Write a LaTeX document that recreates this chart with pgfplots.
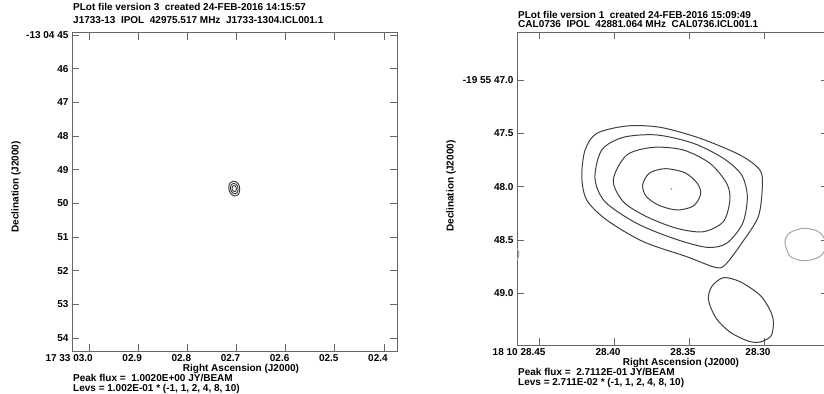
\documentclass[border=0pt]{standalone}
\usepackage{fontspec}
\setmainfont{Liberation Sans}
\usepackage{pgfplots}
\pgfplotsset{compat=1.18}
\newcommand{\pf}{\fontsize{10bp}{12bp}\selectfont\bfseries}
\pgfplotsset{
  skyaxis/.style={
    scale only axis, x dir=reverse, y dir=reverse,
    axis line style={black!60, line width=0.9bp},
    tick style={black!60, line width=0.9bp},
    major tick length=7bp,
    tick align=inside,
    xtick pos=both, ytick pos=both,
    ticklabel style={font=\pf, text=black},
    label style={font=\pf},
    xticklabel style={xshift=-6bp},
    clip=true,
  },
  pos/.style={black!75, line width=1bp, smooth cycle},
  neg/.style={black!35, line width=1bp, smooth cycle},
}
\begin{document}
\begin{tikzpicture}
% ---------------- left panel ----------------
\begin{axis}[skyaxis, at={(72bp,43bp)}, anchor=south west,
  width=325bp, height=318.5bp,
  xmin=2.3735, xmax=3.0347, ymin=44.926, ymax=54.386,
  xtick={3.0,2.9,2.8,2.7,2.6,2.5,2.4},
  xticklabels={{\llap{17 33 }03.0},02.9,02.8,02.7,02.6,02.5,02.4},
  ytick={45,46,47,48,49,50,51,52,53,54},
  yticklabels={{-13 04 45},46,47,48,49,50,51,52,53,54},
  xlabel={Right Ascension (J2000)},
  xlabel style={at={(axis description cs:0.52,0)}, anchor=center, yshift=-18bp},
  ylabel={Declination (J2000)},
  ylabel style={at={(axis description cs:-0.1723,0.515)}, anchor=center},
]
\addplot[black!80, line width=0.9bp, smooth cycle] coordinates {
 (2.70714,49.342) (2.69939,49.372) (2.69469,49.470) (2.69347,49.604) (2.69633,49.737)
 (2.70204,49.782) (2.70918,49.746) (2.71429,49.648) (2.71571,49.514) (2.71327,49.396)};
\addplot[black!80, line width=0.9bp, smooth cycle] coordinates {
 (2.70641,49.408) (2.70098,49.429) (2.69769,49.498) (2.69684,49.591) (2.69884,49.685)
 (2.70284,49.716) (2.70784,49.691) (2.71141,49.622) (2.71241,49.529) (2.71069,49.446)};
\addplot[black!80, line width=0.9bp, smooth cycle] coordinates {
 (2.70567,49.474) (2.70257,49.486) (2.70069,49.525) (2.70020,49.579) (2.70135,49.632)
 (2.70363,49.650) (2.70649,49.636) (2.70853,49.596) (2.70910,49.543) (2.70812,49.495)};
\end{axis}
% ---------------- right panel ----------------
\begin{axis}[skyaxis, at={(517bp,49bp)}, anchor=south west,
  width=311bp, height=313bp,
  xmin=28.2573, xmax=28.4647, ymin=46.55, ymax=49.4836,
  xtick={28.45,28.40,28.35,28.30},
  xticklabels={{\llap{18 10 }28.45},28.40,28.35,28.30},
  ytick={47,47.5,48,48.5,49},
  yticklabels={{-19 55 47.0},47.5,48.0,48.5,49.0},
  xlabel={Right Ascension (J2000)},
  xlabel style={at={(axis description cs:0.527,0)}, anchor=center, yshift=-18bp},
  ylabel={Declination (J2000)},
  ylabel style={at={(axis description cs:-0.2122,0.508)}, anchor=center},
]
% level 8
\addplot[pos] coordinates {
 (28.3809,47.984) (28.3765,47.874) (28.3660,47.831) (28.3527,47.869) (28.3445,47.968)
 (28.3422,48.068) (28.3471,48.181) (28.3582,48.218) (28.3705,48.172) (28.3787,48.087)};
% level 4
\addplot[pos] coordinates {
 (28.4005,47.937) (28.3915,47.703) (28.3738,47.631) (28.3538,47.656) (28.3360,47.781)
 (28.3249,47.968) (28.3227,48.125) (28.3271,48.328) (28.3405,48.422) (28.3582,48.390)
 (28.3782,48.281) (28.3938,48.141)};
% level 2
\addplot[pos] coordinates {
 (28.4127,47.921) (28.4082,47.656) (28.3938,47.537) (28.3715,47.515) (28.3471,47.593)
 (28.3271,47.734) (28.3149,47.890) (28.3111,48.094) (28.3142,48.343) (28.3249,48.530)
 (28.3382,48.568) (28.3605,48.484) (28.3849,48.343) (28.4060,48.141)};
% level 1
\addplot[pos] coordinates {
 (28.4215,47.906) (28.4193,47.656) (28.4115,47.500) (28.3915,47.431) (28.3693,47.443)
 (28.3427,47.546) (28.3160,47.703) (28.3027,47.844) (28.3011,48.000) (28.3038,48.281)
 (28.3149,48.530) (28.3260,48.734) (28.3327,48.755) (28.3515,48.656) (28.3805,48.515)
 (28.4049,48.312) (28.4182,48.125)};
% level 1, lower blob
\addplot[pos] coordinates {
 (28.3370,49.062) (28.3349,48.937) (28.3271,48.853) (28.3160,48.890) (28.3027,49.015)
 (28.2960,49.156) (28.2937,49.268) (28.2953,49.399) (28.3027,49.456) (28.3107,49.446)
 (28.3227,49.362) (28.3320,49.231)};
% level -1
\addplot[neg] coordinates {
 (28.2860,48.515) (28.2827,48.431) (28.2738,48.390) (28.2649,48.412) (28.2607,48.462)
 (28.2583,48.546) (28.2607,48.626) (28.2649,48.671) (28.2738,48.694) (28.2827,48.650)};
\addplot[neg] coordinates {
 (28.4633,48.631) (28.4653,48.692) (28.4707,48.715) (28.4760,48.692) (28.4780,48.631)
 (28.4760,48.570) (28.4707,48.546) (28.4653,48.570)};
% peak
\addplot[only marks, mark=*, mark size=0.5bp, black!50] coordinates {(28.3617,48.0216)};
\end{axis}
% ---------------- header / footer text ----------------
\begin{scope}[every node/.style={anchor=base west, inner sep=0pt, font=\pf}]
\node at (73bp,383.1bp) {PLot file version 3~~created 24-FEB-2016 14:15:57};
\node at (73bp,370bp) {J1733-13~~IPOL~~42975.517 MHz~~J1733-1304.ICL001.1};
\node at (73bp,12.4bp) {Peak flux =~~1.0020E+00 JY/BEAM};
\node at (73bp,2.4bp) {Levs = 1.002E-01 * (-1, 1, 2, 4, 8, 10)};
\node at (518bp,375.4bp) {PLot file version 1~~created 24-FEB-2016 15:09:49};
\node at (518bp,366.4bp) {CAL0736~~IPOL~~42881.064 MHz~~CAL0736.ICL001.1};
\node at (518bp,18.4bp) {Peak flux =~~2.7112E-01 JY/BEAM};
\node at (518bp,8.4bp) {Levs = 2.711E-02 * (-1, 1, 2, 4, 8, 10)};
\end{scope}
\pgfresetboundingbox
\useasboundingbox (0,0) rectangle (824bp,394bp);
\end{tikzpicture}
\end{document}
